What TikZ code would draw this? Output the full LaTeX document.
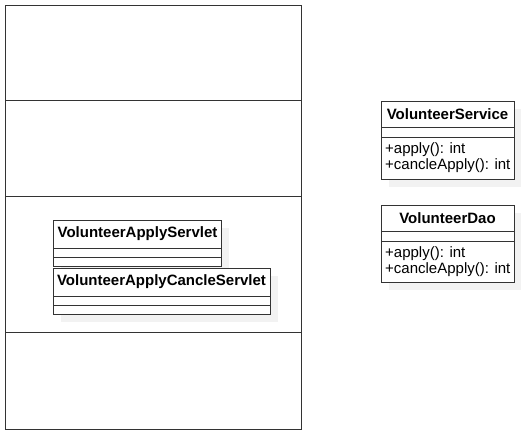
\documentclass[tikz,border=0pt]{standalone}
\usepackage{fontspec}
\setmainfont{Liberation Sans}
\usetikzlibrary{positioning}

\begin{document}
\begin{tikzpicture}[x=1pt,y=-1pt]
    \tikzset{frame/.style = {draw=black!80, line width=1pt}}
    \tikzset{classbox/.style = {draw=black!80, fill=white, line width=1pt, anchor=north west, inner sep=0pt}}
    \tikzset{shade/.style = {fill=black!5, draw=none, anchor=north west, inner sep=0pt}}
    \tikzset{title/.style = {font=\bfseries\fontsize{15}{17}\selectfont, inner sep=0pt}}
    \tikzset{member/.style = {font=\fontsize{15}{17}\selectfont, inner sep=0pt, anchor=west}}

    \useasboundingbox (0,0) rectangle (521,437);

    % package frame
    \draw[frame] (5,5) rectangle (301,429);
    \draw[frame] (5,100.5) -- (301,100.5);
    \draw[frame] (5,196.5) -- (301,196.5);
    \draw[frame] (5,332.5) -- (301,332.5);

    % shadows
    \node[shade, minimum width=168, minimum height=46] at (61,228) {};
    \node[shade, minimum width=217, minimum height=46] at (61,276) {};
    \node[shade, minimum width=133, minimum height=78] at (389,109) {};
    \node[shade, minimum width=133, minimum height=77] at (389,213) {};

    % servlets
    \node[classbox, minimum width=168, minimum height=46] (applyservlet) at (53,220) {};
    \node[title] (applytitle) at (137.5,234) {VolunteerApplyServlet};
    \draw[frame] (53,248) -- (221,248);
    \draw[frame] (53,257) -- (221,257);

    \node[classbox, minimum width=217, minimum height=46] (cancleservlet) at (53,268) {};
    \node[title] (cancletitle) at (161.5,282) {VolunteerApplyCancleServlet};
    \draw[frame] (53,296) -- (270,296);
    \draw[frame] (53,305) -- (270,305);

    % service
    \node[classbox, minimum width=133, minimum height=78] (service) at (381,101) {};
    \node[title] (servicetitle) at (447.5,114) {VolunteerService};
    \draw[frame] (381,127) -- (514,127);
    \draw[frame] (381,137) -- (514,137);
    \node[member] (serviceapply) at (385,150) {+apply(): int};
    \node[member] (servicecancle) at (385,166) {+cancleApply(): int};

    % dao
    \node[classbox, minimum width=133, minimum height=77] (dao) at (381,205) {};
    \node[title] (daotitle) at (447.5,218) {VolunteerDao};
    \draw[frame] (381,231.5) -- (514,231.5);
    \draw[frame] (381,241.5) -- (514,241.5);
    \node[member] (daoapply) at (385,254) {+apply(): int};
    \node[member] (daocancle) at (385,270) {+cancleApply(): int};
\end{tikzpicture}
\end{document}
